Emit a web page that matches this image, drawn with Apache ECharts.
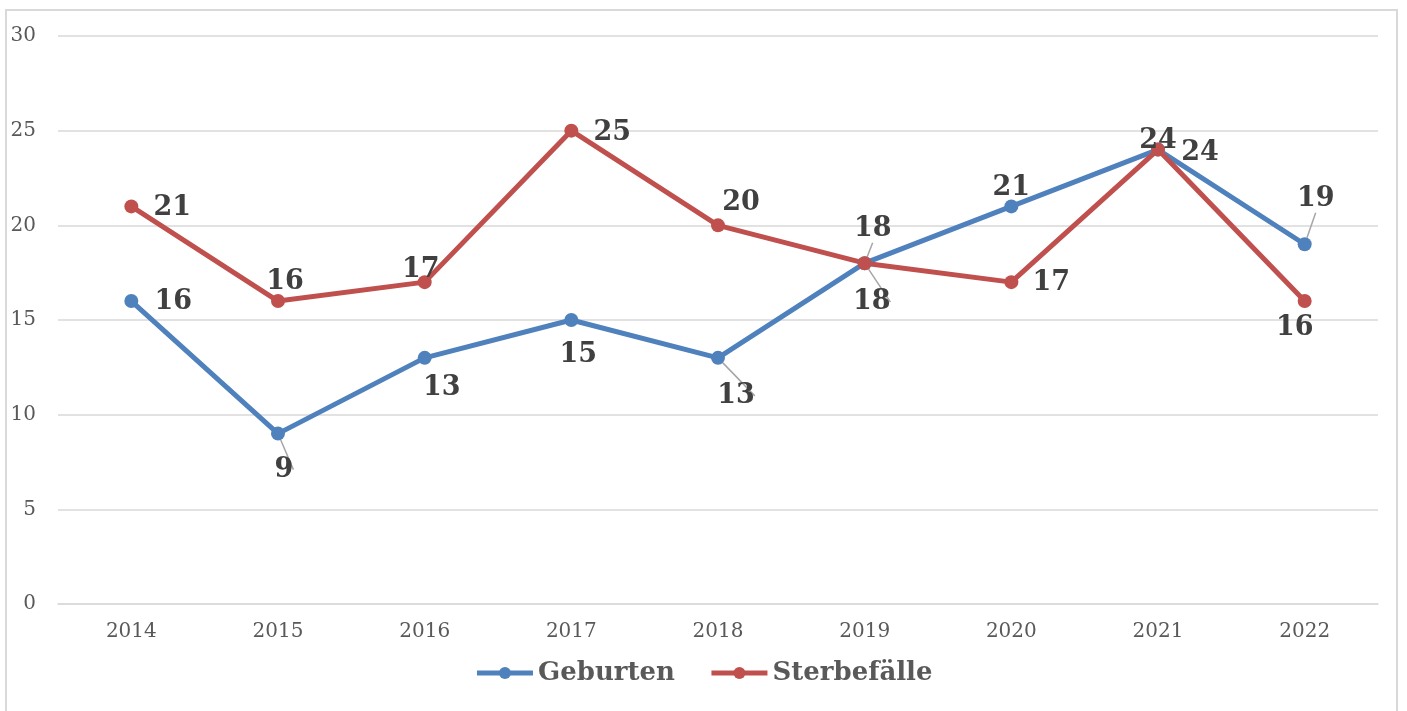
<!DOCTYPE html>
<html>
<head>
<meta charset="utf-8">
<script src="https://cdn.jsdelivr.net/npm/echarts@6/dist/echarts.min.js"></script>
<style>
  html, body { margin: 0; padding: 0; background: #fff; }
  #chart { width: 1407px; height: 711px; }
</style>
</head>
<body>
<div id="chart"></div>
<script>
  // Daten
  var years = ['2014', '2015', '2016', '2017', '2018', '2019', '2020', '2021', '2022'];
  var geburten = [16, 9, 13, 15, 13, 18, 21, 24, 19];
  var sterbefaelle = [21, 16, 17, 25, 20, 18, 17, 24, 16];
  var yTicks = [0, 5, 10, 15, 20, 25, 30];

  // label placement (pixel offsets from the point), leader line flag
  var geburtenLabel = [[42, 1, 0], [6, 36, 1], [17, 30, 0], [7, 35, 0], [18, 38, 1], [7, 39, 1], [0, -18, 0], [0, -9, 0], [11, -45, 1]];
  var sterbeLabel = [[41, 2, 0], [7, -19, 0], [-4, -12, 0], [41, 2, 0], [23, -22, 0], [8, -34, 1], [40, 1, 0], [42, 3, 0], [-10, 27, 0]];

  function withLabels(values, place) {
    return values.map(function (v, i) {
      return {
        value: v,
        label: { offset: [place[i][0], place[i][1]] },
        labelLine: { show: place[i][2] === 1 }
      };
    });
  }

  var chart = echarts.init(document.getElementById('chart'));
  var labelStyle = {
    show: true,
    position: 'inside',
    fontFamily: 'DejaVu Serif',
    fontWeight: 'bold',
    fontSize: 27,
    color: '#404040'
  };
  var option = {
    backgroundColor: '#ffffff',
    animation: false,
    graphic: [{
      type: 'rect',
      shape: { x: 6, y: 10, width: 1391, height: 720 },
      style: { fill: 'none', stroke: '#d9d9d9', lineWidth: 2 },
      silent: true
    }],
    grid: { left: 58, right: 29, top: 36, bottom: 107 },
    legend: {
      bottom: 20,
      left: 'center',
      itemWidth: 56,
      itemHeight: 15,
      itemGap: 34,
      lineStyle: { width: 5 },
      textStyle: {
        fontFamily: 'DejaVu Serif',
        fontWeight: 'bold',
        fontSize: 26,
        color: '#595959'
      },
      data: ['Geburten', 'Sterbefälle']
    },
    xAxis: {
      type: 'category',
      data: years,
      boundaryGap: true,
      axisLine: { show: true, lineStyle: { color: '#d9d9d9', width: 1.5 } },
      axisTick: { show: false },
      axisLabel: { margin: 18, fontFamily: 'DejaVu Serif', fontSize: 20, color: '#595959' }
    },
    yAxis: {
      type: 'value',
      min: yTicks[0],
      max: yTicks[yTicks.length - 1],
      interval: 5,
      axisLine: { show: false },
      axisTick: { show: false },
      axisLabel: { margin: 22, fontFamily: 'DejaVu Serif', fontSize: 20, color: '#595959' },
      splitLine: { lineStyle: { color: '#d9d9d9', width: 1.5 } }
    },
    series: [{
      name: 'Geburten',
      type: 'line',
      symbol: 'circle',
      symbolSize: 14,
      itemStyle: { color: '#4f81bd' },
      lineStyle: { color: '#4f81bd', width: 5 },
      label: labelStyle,
      labelLine: { lineStyle: { color: '#a6a6a6', width: 1.5 } },
      data: withLabels(geburten, geburtenLabel)
    }, {
      name: 'Sterbefälle',
      type: 'line',
      symbol: 'circle',
      symbolSize: 14,
      itemStyle: { color: '#c0504d' },
      lineStyle: { color: '#c0504d', width: 5 },
      label: labelStyle,
      labelLine: { lineStyle: { color: '#a6a6a6', width: 1.5 } },
      data: withLabels(sterbefaelle, sterbeLabel)
    }]
  };
  chart.setOption(option);
</script>
</body>
</html>
